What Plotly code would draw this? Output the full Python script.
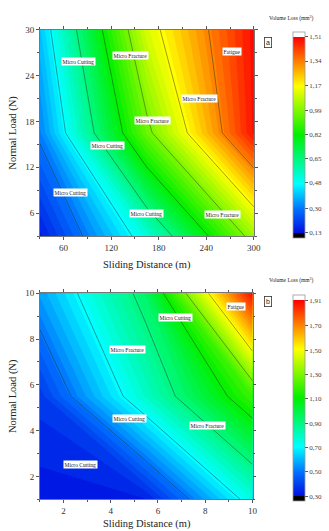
import plotly.graph_objects as go

# ---------------- data ----------------
# Panel a
a_distance = [30, 165, 300]          # Sliding Distance (m)
a_load = [3, 16.5, 30]               # Normal Load (N)
a_volume = [                         # Volume Loss (mm^3), rows = load
    [0.15, 0.524, 1.033],
    [0.317, 0.963, 1.49],
    [0.40, 1.115, 1.496],
]
a_ticks = [0.13, 0.30, 0.48, 0.65, 0.82, 0.99, 1.17, 1.34, 1.51]
a_ticktext = ["0,13", "0,30", "0,48", "0,65", "0,82", "0,99", "1,17", "1,34", "1,51"]
a_labels = [
    ("Micro Cutting", 79, 25.9), ("Micro Fracture", 144, 26.6), ("Fatigue", 273, 27.2),
    ("Micro Fracture", 231, 21.0), ("Micro Fracture", 172, 18.1), ("Micro Cutting", 116, 14.8),
    ("Micro Cutting", 69, 8.7), ("Micro Cutting", 165, 5.9), ("Micro Fracture", 261, 5.8),
]

# Panel b
b_distance = [1, 5.5, 10]
b_load = [1, 5.5, 10]
b_volume = [
    [0.31, 0.33, 0.75],
    [0.38, 0.79, 1.20],
    [0.565, 0.95, 1.90],
]
b_ticks = [0.30, 0.50, 0.70, 0.90, 1.10, 1.30, 1.50, 1.70, 1.91]
b_ticktext = ["0,30", "0,50", "0,70", "0,90", "1,10", "1,30", "1,50", "1,70", "1,91"]
b_labels = [
    ("Fatigue", 9.3, 9.42), ("Micro Cutting", 6.76, 8.93), ("Micro Fracture", 4.71, 7.54),
    ("Micro Cutting", 4.81, 4.55), ("Micro Fracture", 8.11, 4.24), ("Micro Cutting", 2.72, 2.52),
]

# ---------------- style ----------------
W, H = 329, 531
SERIF = "Liberation Serif"
rainbow = [[0.0, "#0010e0"], [0.12, "#0070ff"], [0.25, "#00ffff"], [0.5, "#00f000"],
           [0.75, "#ffff00"], [1.0, "#ff0000"]]


def ext_scale(f):
    cs = [[0.0, "#000000"], [f, "#000000"]]
    for p, c in rainbow:
        cs.append([f + p * (1 - 2 * f), c])
    cs += [[1 - f, "#ffffff"], [1.0, "#ffffff"]]
    return cs


def px_x(p):
    return p / W


def px_y(p):
    return 1 - p / H


fig = go.Figure()

panels = [
    dict(x=a_distance, y=a_load, z=a_volume, ticks=a_ticks, text=a_ticktext, labels=a_labels,
         xa="x", ya="y", cb_top=27, cb_bot=233, tag="a", tagy=32, titley=14, xtitley=262),
    dict(x=b_distance, y=b_load, z=b_volume, ticks=b_ticks, text=b_ticktext, labels=b_labels,
         xa="x2", ya="y2", cb_top=293, cb_bot=499, tag="b", tagy=299, titley=278, xtitley=524),
]

for P in panels:
    zmin, zmax = P["ticks"][0], P["ticks"][-1]
    R = zmax - zmin
    nlev = 50
    fig.add_trace(go.Contour(
        x=P["x"], y=P["y"], z=P["z"], xaxis=P["xa"], yaxis=P["ya"],
        colorscale=rainbow, zmin=zmin, zmax=zmax, showscale=False,
        contours=dict(coloring="fill", start=zmin, end=zmax, size=R / nlev),
        line=dict(width=0, smoothing=0), hoverinfo="skip",
    ))
    step = (P["ticks"][-1] - P["ticks"][0]) / (len(P["ticks"]) - 1)
    fig.add_trace(go.Contour(
        x=P["x"], y=P["y"], z=P["z"], xaxis=P["xa"], yaxis=P["ya"],
        showscale=False,
        contours=dict(coloring="none", start=P["ticks"][1], end=P["ticks"][-2] + 1e-6, size=step),
        line=dict(width=0.6, color="rgba(30,40,30,0.75)", smoothing=0), hoverinfo="skip",
    ))
    # colorbar via dummy marker trace
    f = 0.025
    d = R * f / (1 - 2 * f)
    fig.add_trace(go.Scatter(
        x=[None], y=[None], xaxis=P["xa"], yaxis=P["ya"], mode="markers", showlegend=False,
        marker=dict(color=[zmin, zmax], cmin=zmin - d, cmax=zmax + d,
                    colorscale=ext_scale(f), showscale=True,
                    colorbar=dict(
                        x=px_x(299), xanchor="left", xpad=0, ypad=0,
                        y=px_y(P["cb_top"]), yanchor="top",
                        lenmode="pixels", len=P["cb_bot"] - P["cb_top"],
                        thicknessmode="pixels", thickness=12,
                        outlinewidth=0.8, outlinecolor="#999999",
                        tickmode="array", tickvals=P["ticks"], ticktext=P["text"],
                        ticks="outside", ticklen=3, tickcolor="#555555",
                        tickfont=dict(family=SERIF, size=7, color="#444444"),
                    )),
    ))
    for t, lx, ly in P["labels"]:
        fig.add_annotation(x=lx, y=ly, xref=P["xa"], yref=P["ya"], text=t, showarrow=False,
                           font=dict(family=SERIF, size=5.5, color="#222222"),
                           bgcolor="white", borderpad=0.5)
    fig.add_annotation(x=px_x(278), y=px_y(P["tagy"]), xref="paper", yref="paper",
                       text=P["tag"], showarrow=False,
                       font=dict(family="Liberation Sans", size=7, color="#222222"),
                       bgcolor="white", bordercolor="#333333", borderwidth=0.8, borderpad=1.2)
    fig.add_annotation(x=px_x(273), y=px_y(P["titley"]), xref="paper", yref="paper",
                       xanchor="left", yanchor="middle",
                       text="Volume Loss (mm<sup>3</sup>)", showarrow=False,
                       font=dict(family=SERIF, size=5.5, color="#222222"))
    fig.add_annotation(x=px_x(150), y=px_y(P["xtitley"]), xref="paper", yref="paper",
                       xanchor="center", yanchor="middle",
                       text="Sliding Distance (m)", showarrow=False,
                       font=dict(family=SERIF, size=10.5, color="#222222"))

axis_common = dict(
    showline=True, linecolor="#777777", linewidth=0.8, mirror="ticks",
    ticks="outside", ticklen=3, tickcolor="#555555", tickwidth=0.8,
    tickfont=dict(family=SERIF, size=9, color="#333333"),
    showgrid=False, zeroline=False,
    title_font=dict(family=SERIF, size=10.5, color="#222222"),
)

fig.update_layout(
    width=W, height=H, margin=dict(l=0, r=0, t=0, b=0),
    paper_bgcolor="white", plot_bgcolor="white", showlegend=False,
    xaxis=dict(axis_common, domain=[px_x(40.7), px_x(259.3)], range=[30, 300],
               tickmode="array", tickvals=[60, 120, 180, 240, 300],
               minor=dict(dtick=30, tick0=30, ticks="outside", ticklen=2, tickcolor="#555555"),
               anchor="y"),
    yaxis=dict(axis_common, domain=[px_y(233.3), px_y(25)], range=[3, 30],
               tickmode="array", tickvals=[6, 12, 18, 24, 30],
               minor=dict(dtick=3, tick0=0, ticks="outside", ticklen=2, tickcolor="#555555"),
               title=dict(text="Normal Load (N)", standoff=6), anchor="x"),
    xaxis2=dict(axis_common, domain=[px_x(40.7), px_x(258)], range=[1, 10],
                tickmode="array", tickvals=[2, 4, 6, 8, 10],
                minor=dict(dtick=1, tick0=0, ticks="outside", ticklen=2, tickcolor="#555555"),
                anchor="y2"),
    yaxis2=dict(axis_common, domain=[px_y(499), px_y(291)], range=[1, 10],
                tickmode="array", tickvals=[2, 4, 6, 8, 10],
                minor=dict(dtick=1, tick0=0, ticks="outside", ticklen=2, tickcolor="#555555"),
                title=dict(text="Normal Load (N)", standoff=6), anchor="x2"),
)

fig.write_html("out.html", config={"displayModeBar": False},
               post_script="document.body.style.margin='0';document.body.style.overflow='hidden';")
